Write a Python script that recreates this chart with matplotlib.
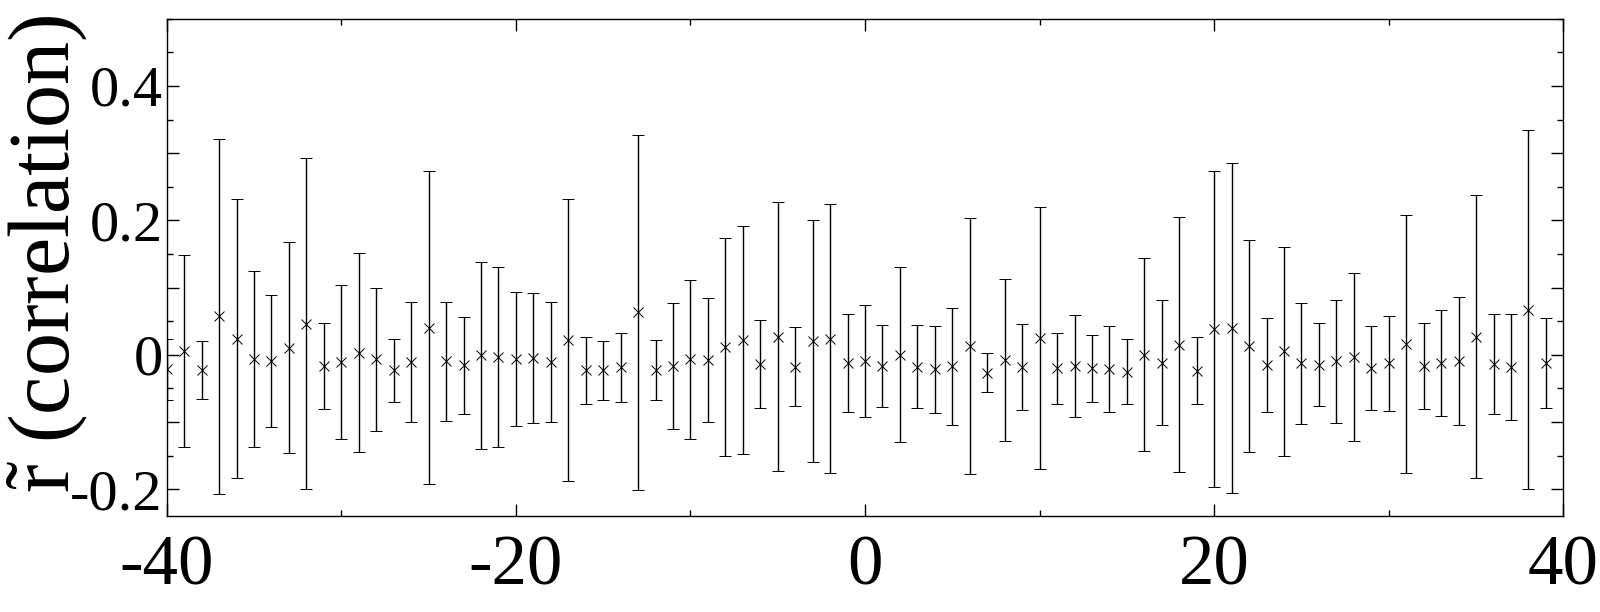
import numpy as np
import matplotlib
matplotlib.use("Agg")
import matplotlib.pyplot as plt
from matplotlib.ticker import MultipleLocator

plt.rcParams["font.family"] = ["Liberation Serif", "DejaVu Serif"]
plt.rcParams["mathtext.fontset"] = "custom"
plt.rcParams["mathtext.rm"] = "Liberation Serif"
plt.rcParams["axes.unicode_minus"] = False

# lag values and correlation estimates with their error half-widths
lags = np.arange(-40, 40)
r_vals = [
    -0.022, 0.006, -0.023, 0.057, 0.024, -0.006, -0.009, 0.010, 0.046, -0.017,
    -0.011, 0.003, -0.007, -0.023, -0.011, 0.040, -0.010, -0.016, -0.001, -0.004,
    -0.006, -0.005, -0.011, 0.022, -0.023, -0.023, -0.019, 0.063, -0.023, -0.017,
    -0.007, -0.008, 0.012, 0.022, -0.014, 0.027, -0.018, 0.020, 0.024, -0.013,
    -0.009, -0.017, 0.000, -0.018, -0.022, -0.017, 0.013, -0.027, -0.008, -0.018,
    0.025, -0.020, -0.017, -0.020, -0.021, -0.025, 0.000, -0.012, 0.015, -0.024,
    0.038, 0.040, 0.013, -0.016, 0.005, -0.013, -0.015, -0.010, -0.004, -0.020,
    -0.013, 0.016, -0.017, -0.012, -0.009, 0.027, -0.014, -0.018, 0.067, -0.012,
]
r_err = [
    0.046, 0.143, 0.043, 0.264, 0.208, 0.131, 0.098, 0.157, 0.246, 0.064,
    0.114, 0.148, 0.106, 0.047, 0.089, 0.233, 0.089, 0.072, 0.139, 0.134,
    0.100, 0.097, 0.089, 0.210, 0.050, 0.044, 0.051, 0.264, 0.045, 0.094,
    0.118, 0.092, 0.162, 0.170, 0.066, 0.200, 0.059, 0.180, 0.200, 0.073,
    0.083, 0.061, 0.130, 0.062, 0.065, 0.087, 0.191, 0.029, 0.120, 0.064,
    0.195, 0.053, 0.076, 0.050, 0.064, 0.048, 0.144, 0.093, 0.190, 0.050,
    0.235, 0.246, 0.158, 0.070, 0.155, 0.090, 0.062, 0.091, 0.125, 0.062,
    0.071, 0.192, 0.064, 0.079, 0.095, 0.210, 0.074, 0.079, 0.267, 0.067,
]

fig = plt.figure(figsize=(16, 6.12), dpi=100)
ax = fig.add_axes([0.1042, 0.1569, 0.8729, 0.8125])

ax.errorbar(lags, r_vals, yerr=r_err, fmt="x", color="black", ecolor="black",
            elinewidth=1.0, capsize=4.3, capthick=1.0, markersize=7.5,
            markeredgewidth=0.7)

ax.set_xlim(-40, 40)
ax.set_ylim(-0.24, 0.5)

ax.xaxis.set_major_locator(MultipleLocator(20))
ax.xaxis.set_minor_locator(MultipleLocator(10))
ax.set_yticks([-0.2, -0.1, 0, 0.1, 0.2, 0.3, 0.4])
ax.set_yticklabels(["-0.2", "", "0", "", "0.2", "", "0.4"])
ax.yaxis.set_minor_locator(MultipleLocator(0.05))

ax.tick_params(which="both", direction="in", top=True, right=True, width=1.0)
ax.tick_params(which="major", length=8.5)
ax.tick_params(which="minor", length=4.5)
ax.tick_params(axis="x", which="major", labelsize=51, pad=13)
ax.tick_params(axis="y", which="major", labelsize=42, pad=3)

for s in ax.spines.values():
    s.set_linewidth(1.0)

ax.set_ylabel(r"$\tilde{\mathrm{r}}$ (correlation)", fontsize=62)
ax.yaxis.set_label_coords(-0.055, 0.527)

fig.savefig("out.png", dpi=100)
